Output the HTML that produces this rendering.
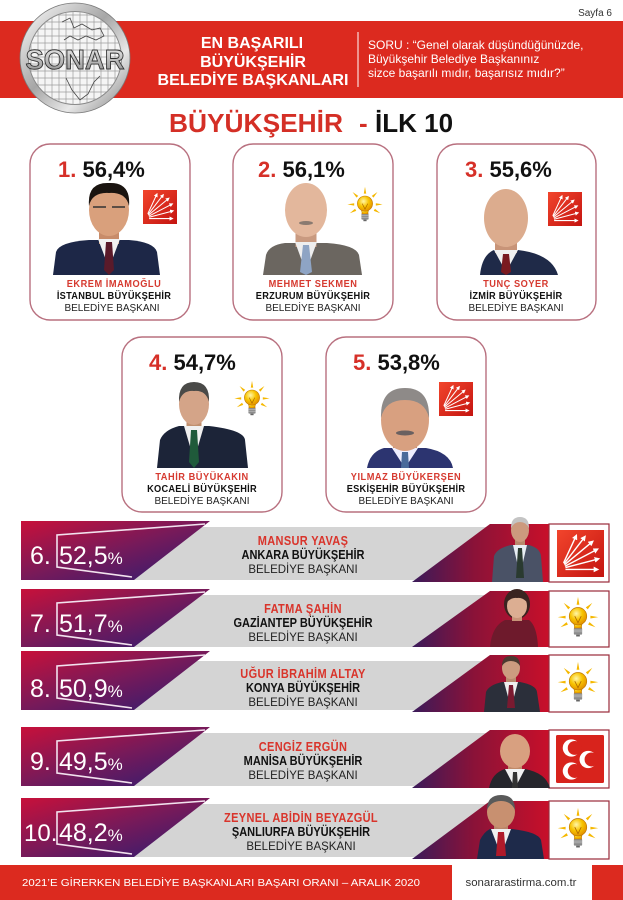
<!DOCTYPE html>
<html>
<head>
<meta charset="utf-8">
<style>
html,body{margin:0;padding:0;background:#fff;}
body{width:623px;height:900px;overflow:hidden;position:relative;}
svg{position:absolute;left:0;top:0;display:block;}
text{font-family:"Liberation Sans","DejaVu Sans",sans-serif;}
</style>
</head>
<body>
<svg width="623" height="900" viewBox="0 0 623 900" xmlns="http://www.w3.org/2000/svg">
<defs>
  <linearGradient id="lg" x1="0" y1="0" x2="1" y2="1">
    <stop offset="0" stop-color="#c8103a"/>
    <stop offset="0.5" stop-color="#761a5a"/>
    <stop offset="1" stop-color="#2a1c72"/>
  </linearGradient>
  <linearGradient id="rg" x1="0" y1="0.5" x2="1" y2="0.5">
    <stop offset="0" stop-color="#3a1a5a"/>
    <stop offset="0.45" stop-color="#8a1238"/>
    <stop offset="1" stop-color="#c8102a"/>
  </linearGradient>
  <linearGradient id="chpg" x1="0" y1="0" x2="1" y2="1">
    <stop offset="0" stop-color="#f2452c"/>
    <stop offset="1" stop-color="#c41410"/>
  </linearGradient>
  <radialGradient id="bulb" cx="0.4" cy="0.35" r="0.7">
    <stop offset="0" stop-color="#fff6a8"/>
    <stop offset="0.5" stop-color="#f8c400"/>
    <stop offset="1" stop-color="#e08a00"/>
  </radialGradient>
  <linearGradient id="ring" x1="0" y1="0" x2="1" y2="1">
    <stop offset="0" stop-color="#ffffff"/>
    <stop offset="0.45" stop-color="#a6a6a6"/>
    <stop offset="0.7" stop-color="#e8e8e8"/>
    <stop offset="1" stop-color="#7c7c7c"/>
  </linearGradient>
  <linearGradient id="txs" x1="0" y1="0" x2="0" y2="1">
    <stop offset="0" stop-color="#f6f6f6"/>
    <stop offset="0.5" stop-color="#bdbdbd"/>
    <stop offset="1" stop-color="#8a8a8a"/>
  </linearGradient>
  <clipPath id="inner"><circle cx="75" cy="58" r="46"/></clipPath>
  <marker id="ah" markerWidth="4" markerHeight="4" refX="2" refY="2" orient="auto">
    <path d="M0,0 L4,2 L0,4 z" fill="#fff"/>
  </marker>
  <symbol id="chp" viewBox="0 0 100 100">
    <rect x="0" y="0" width="100" height="100" fill="url(#chpg)"/>
    <g stroke="#fff" stroke-width="3" fill="none" marker-end="url(#ah)">
      <path d="M14,70 L40,14"/>
      <path d="M15,72 L58,16"/>
      <path d="M16,74 L74,26"/>
      <path d="M17,77 L84,42"/>
      <path d="M18,80 L86,62"/>
      <path d="M18,84 L84,84"/>
    </g>
  </symbol>
  <symbol id="akp" viewBox="0 0 100 100">
    <g fill="#f5b800">
      <polygon points="47,19 53,19 50,2"/>
      <polygon points="71.2,29 67,24.8 81.1,14.9"/>
      <polygon points="28.8,29 33,24.8 18.9,14.9"/>
      <polygon points="77,43 77,49 94,46"/>
      <polygon points="23,43 23,49 6,46"/>
      <polygon points="71.9,62.1 74.9,56.9 88.1,68"/>
      <polygon points="28.1,62.1 25.1,56.9 11.9,68"/>
    </g>
    <path d="M39,56 Q44,66 42,70 L58,70 Q56,66 61,56 Z" fill="url(#bulb)" stroke="#c07a00" stroke-width="1.5"/>
    <circle cx="50" cy="44" r="19" fill="url(#bulb)" stroke="#c07a00" stroke-width="1.5"/>
    <path d="M43,44 L50,58 L57,44" stroke="#b06a00" stroke-width="1.8" fill="none"/>
    <rect x="41" y="70" width="18" height="14" rx="2" fill="#8c8c8c"/>
    <path d="M41,74 L59,74 M41,78 L59,78" stroke="#d0d0d0" stroke-width="1.2"/>
    <rect x="46" y="84" width="8" height="4" fill="#666"/>
  </symbol>
  <symbol id="mhp" viewBox="0 0 100 100">
    <rect x="0" y="0" width="100" height="100" rx="3" fill="#d8231c"/>
    <circle cx="32" cy="27" r="18" fill="#fff"/>
    <circle cx="67" cy="51" r="18" fill="#fff"/>
    <circle cx="32" cy="75" r="18" fill="#fff"/>
    <circle cx="39" cy="27" r="14.5" fill="#d8231c"/>
    <circle cx="74" cy="51" r="14.5" fill="#d8231c"/>
    <circle cx="39" cy="75" r="14.5" fill="#d8231c"/>
  </symbol>
</defs>

<!-- Page label -->
<text x="612" y="16" font-size="10" fill="#333" text-anchor="end">Sayfa 6</text>

<!-- Header band -->
<rect x="0" y="21" width="623" height="77" fill="#dc2a1f"/>

<!-- Logo -->
<circle cx="75" cy="58" r="55" fill="url(#ring)" stroke="#7a7a7a" stroke-width="0.8"/>
<circle cx="75" cy="58" r="46.5" fill="#f5f5f5" stroke="#8a8a8a" stroke-width="1"/>
<g clip-path="url(#inner)">
  <path d="M31,10 L31,106 M38,10 L38,106 M45,10 L45,106 M52,10 L52,106 M59,10 L59,106 M66,10 L66,106 M73,10 L73,106 M80,10 L80,106 M87,10 L87,106 M94,10 L94,106 M101,10 L101,106 M108,10 L108,106 M115,10 L115,106 M25,15 L125,15 M25,22 L125,22 M25,29 L125,29 M25,36 L125,36 M25,43 L125,43 M25,50 L125,50 M25,57 L125,57 M25,64 L125,64 M25,71 L125,71 M25,78 L125,78 M25,85 L125,85 M25,92 L125,92 M25,99 L125,99" stroke="#9c9c9c" stroke-width="0.7" fill="none"/>
  <path d="M62,22 L70,18 L74,28 L82,24 L92,30 L100,28 L104,36 L96,40 L86,36 L78,40 L70,36 L64,40" stroke="#444" stroke-width="0.8" fill="none"/>
  <path d="M66,78 L72,90 L80,100 L88,94 L94,82 L100,76" stroke="#444" stroke-width="0.8" fill="none"/>
</g>
<text x="75" y="69" font-size="28" font-weight="bold" text-anchor="middle" fill="url(#txs)" stroke="#333" stroke-width="0.9" textLength="99" lengthAdjust="spacingAndGlyphs">SONAR</text>

<!-- Header titles -->
<g font-weight="bold" font-size="16" fill="#fff" text-anchor="middle">
  <text x="252" y="48">EN BAŞARILI</text>
  <text x="253" y="67">BÜYÜKŞEHİR</text>
  <text x="253" y="85" textLength="191" lengthAdjust="spacingAndGlyphs">BELEDİYE BAŞKANLARI</text>
</g>
<line x1="358" y1="32" x2="358" y2="87" stroke="#fff" stroke-width="1"/>
<g font-size="12" fill="#fff">
  <text x="368" y="49">SORU : “Genel olarak düşündüğünüzde,</text>
  <text x="368" y="63">Büyükşehir Belediye Başkanınız</text>
  <text x="368" y="77">sizce başarılı mıdır, başarısız mıdır?”</text>
</g>

<!-- Main title -->
<g font-size="26" font-weight="bold">
  <text x="169" y="132" fill="#d42f26" textLength="174" lengthAdjust="spacingAndGlyphs">BÜYÜKŞEHİR</text>
  <text x="359" y="132" fill="#d42f26">-</text>
  <text x="375" y="132" fill="#111">İLK 10</text>
</g>

<!-- Cards -->
<g fill="#fff" stroke="#b8707f" stroke-width="1.4">
  <rect x="30" y="144" width="160" height="176" rx="20"/>
  <rect x="233" y="144" width="160" height="176" rx="20"/>
  <rect x="437" y="144" width="159" height="176" rx="20"/>
  <rect x="122" y="337" width="160" height="175" rx="20"/>
  <rect x="326" y="337" width="160" height="175" rx="20"/>
</g>

<!-- Card ranks -->
<g font-size="22" font-weight="bold">
  <text x="58" y="177"><tspan fill="#d63028">1.</tspan><tspan fill="#111"> 56,4%</tspan></text>
  <text x="258" y="177"><tspan fill="#d63028">2.</tspan><tspan fill="#111"> 56,1%</tspan></text>
  <text x="465" y="177"><tspan fill="#d63028">3.</tspan><tspan fill="#111"> 55,6%</tspan></text>
  <text x="149" y="370"><tspan fill="#d63028">4.</tspan><tspan fill="#111"> 54,7%</tspan></text>
  <text x="353" y="370"><tspan fill="#d63028">5.</tspan><tspan fill="#111"> 53,8%</tspan></text>
</g>

<!-- Card 1 person: Imamoglu -->
<g>
  <path d="M53,275 L56,252 Q59,242 89,240 L129,240 Q154,242 157,252 L160,275 Z" fill="#1d2747"/>
  <rect x="99" y="226" width="20" height="18" fill="#c88c6a"/>
  <polygon points="98,239 120,239 109,268" fill="#f2f2f2"/>
  <polygon points="106,242 112,242 114,270 109,275 104,270" fill="#5a1a2a"/>
  <ellipse cx="109" cy="210" rx="20" ry="26" fill="#d9a07c"/>
  <path d="M89,206 Q87,182 109,183 Q131,182 129,206 Q126,192 109,193 Q92,192 89,206 Z" fill="#1a1410"/>
  <path d="M93,207 L106,207 M112,207 L125,207" stroke="#333" stroke-width="1.5"/>
</g>
<use href="#chp" x="143" y="190" width="34" height="34"/>

<!-- Card 2 person: Sekmen -->
<g>
  <path d="M263,275 L266,255 Q269,245 285,243 L327,243 Q356,245 359,255 L362,275 Z" fill="#6b6660"/>
  <rect x="295.5" y="226" width="21" height="21" fill="#c99a80"/>
  <polygon points="295,242 317,242 306,272" fill="#eeeeee"/>
  <polygon points="303,245 309,245 312,272 306,275 300,272" fill="#8ea4c4"/>
  <ellipse cx="306" cy="210" rx="21" ry="27" fill="#e3b79c"/>
  <ellipse cx="306" cy="223" rx="7" ry="2" fill="#8a7a70"/>
</g>
<use href="#akp" x="345" y="186" width="40" height="40"/>

<!-- Card 3 person: Soyer -->
<g>
  <path d="M480,275 Q482,255 494,250 L518,250 Q552,254 558,275 Z" fill="#1f2a48"/>
  <rect x="495" y="235" width="22" height="18" fill="#c89478"/>
  <polygon points="494,250 518,250 506,272" fill="#f0f0f0"/>
  <polygon points="503,254 509,254 511,272 506,275 501,272" fill="#7a1a20"/>
  <ellipse cx="506" cy="218" rx="22" ry="29" fill="#dcac8e"/>
</g>
<use href="#chp" x="548" y="192" width="34" height="34"/>

<!-- Card 4 person: Buyukakin -->
<g>
  <path d="M157,468 L160,440 Q164,430 179,426 L209,426 Q244,430 245,440 L248,468 Z" fill="#1c2438"/>
  <rect x="186.5" y="417" width="15" height="12" fill="#c0906f"/>
  <polygon points="184,426 204,426 194,460" fill="#f0f0f0"/>
  <polygon points="191,430 197,430 199,462 194,468 189,462" fill="#1f5a3a"/>
  <ellipse cx="194" cy="404" rx="15" ry="21" fill="#d4a488"/>
  <path d="M179,402 Q178,382 194,382 Q210,382 209,402 Q206,390 194,391 Q182,390 179,402 Z" fill="#4a4a48"/>
</g>
<use href="#akp" x="232" y="380" width="40" height="40"/>

<!-- Card 5 person: Buyukersen -->
<g>
  <path d="M367,468 Q370,452 384,448 L426,448 Q450,452 453,468 Z" fill="#2c3470"/>
  <rect x="393" y="440" width="24" height="10" fill="#c89070"/>
  <polygon points="392,448 418,448 405,468" fill="#eeeeff"/>
  <polygon points="402,452 408,452 409,468 401,468" fill="#4a6a9a"/>
  <ellipse cx="405" cy="420" rx="24" ry="31" fill="#d8a080"/>
  <path d="M381,418 Q380,388 405,388 Q430,388 429,418 Q425,400 405,400 Q385,400 381,418 Z" fill="#8e8a88"/>
  <ellipse cx="405" cy="433" rx="9" ry="2.5" fill="#6a6060"/>
</g>
<use href="#chp" x="439" y="382" width="34" height="34"/>

<!-- Card texts -->
<g text-anchor="middle">
  <g font-size="10.5" font-weight="bold" fill="#d63a30" letter-spacing="0.6">
    <text transform="translate(114,287) scale(0.88,1)">EKREM  İMAMOĞLU</text>
    <text transform="translate(313,287) scale(0.88,1)">MEHMET SEKMEN</text>
    <text transform="translate(516,287) scale(0.88,1)">TUNÇ SOYER</text>
    <text transform="translate(202,480) scale(0.88,1)">TAHİR BÜYÜKAKIN</text>
    <text transform="translate(406,480) scale(0.88,1)">YILMAZ BÜYÜKERŞEN</text>
  </g>
  <g font-size="10.5" font-weight="bold" fill="#111" letter-spacing="0.3">
    <text transform="translate(114,299) scale(0.88,1)">İSTANBUL BÜYÜKŞEHİR</text>
    <text transform="translate(313,299) scale(0.88,1)">ERZURUM BÜYÜKŞEHİR</text>
    <text transform="translate(516,299) scale(0.88,1)">İZMİR BÜYÜKŞEHİR</text>
    <text transform="translate(202,492) scale(0.88,1)">KOCAELİ BÜYÜKŞEHİR</text>
    <text transform="translate(406,492) scale(0.88,1)">ESKİŞEHİR BÜYÜKŞEHİR</text>
  </g>
  <g font-size="10" fill="#222">
    <text x="112" y="311">BELEDİYE BAŞKANI</text>
    <text x="313" y="311">BELEDİYE BAŞKANI</text>
    <text x="516" y="311">BELEDİYE BAŞKANI</text>
    <text x="202" y="504">BELEDİYE BAŞKANI</text>
    <text x="406" y="504">BELEDİYE BAŞKANI</text>
  </g>
</g>

<!-- ===== Bars ===== -->
<!-- Row 6 -->
<rect x="125" y="527" width="400" height="53" fill="#d4d4d4"/>
<polygon points="21,521 210,521 134,580 21,580" fill="url(#lg)"/>
<polyline points="205,524 57,535 57,567 132,577" fill="none" stroke="#f2e2ee" stroke-width="1.6"/>
<polygon points="412,582 490,524 549,524 549,582" fill="url(#rg)"/>
<rect x="549" y="524" width="60" height="58" fill="#fff" stroke="#9a2a3a" stroke-width="1.2"/>
<!-- Row 7 -->
<rect x="125" y="595" width="400" height="52" fill="#d4d4d4"/>
<polygon points="21,589 210,589 134,647 21,647" fill="url(#lg)"/>
<polyline points="205,592 57,603 57,635 132,645" fill="none" stroke="#f2e2ee" stroke-width="1.6"/>
<polygon points="412,647 490,591 549,591 549,647" fill="url(#rg)"/>
<rect x="549" y="591" width="60" height="56" fill="#fff" stroke="#9a2a3a" stroke-width="1.2"/>
<!-- Row 8 -->
<rect x="125" y="661" width="400" height="49" fill="#d4d4d4"/>
<polygon points="21,651 210,651 134,710 21,710" fill="url(#lg)"/>
<polyline points="205,655 57,666 57,698 132,708" fill="none" stroke="#f2e2ee" stroke-width="1.6"/>
<polygon points="412,712 490,655 549,655 549,712" fill="url(#rg)"/>
<rect x="549" y="655" width="60" height="57" fill="#fff" stroke="#9a2a3a" stroke-width="1.2"/>
<!-- Row 9 -->
<rect x="125" y="733" width="400" height="53" fill="#d4d4d4"/>
<polygon points="21,727 210,727 134,786 21,786" fill="url(#lg)"/>
<polyline points="205,730 57,741 57,773 132,783" fill="none" stroke="#f2e2ee" stroke-width="1.6"/>
<polygon points="412,788 490,730 549,730 549,788" fill="url(#rg)"/>
<rect x="549" y="730" width="60" height="58" fill="#fff" stroke="#9a2a3a" stroke-width="1.2"/>
<!-- Row 10 -->
<rect x="125" y="804" width="400" height="53" fill="#d4d4d4"/>
<polygon points="21,798 210,798 134,857 21,857" fill="url(#lg)"/>
<polyline points="205,801 57,812 57,844 132,854" fill="none" stroke="#f2e2ee" stroke-width="1.6"/>
<polygon points="412,859 490,801 549,801 549,859" fill="url(#rg)"/>
<rect x="549" y="801" width="60" height="58" fill="#fff" stroke="#9a2a3a" stroke-width="1.2"/>

<!-- Bar people -->
<!-- Yavas -->
<g>
  <path d="M492,582 L494,556 Q497,548 511,545 L529,545 Q540,548 541,556 L543,582 Z" fill="#4a5266"/>
  <rect x="515" y="538" width="10" height="9" fill="#b8886c"/>
  <polygon points="513,545 527,545 520,575" fill="#e8eef4"/>
  <polygon points="518,548 522,548 524,578 516,578" fill="#2a3a30"/>
  <ellipse cx="520" cy="530" rx="9" ry="12" fill="#cc9a7e"/>
  <path d="M511,528 Q511,517 520,517 Q529,517 529,528 Q526,522 520,522 Q514,522 511,528 Z" fill="#c4c4c4"/>
</g>
<!-- Sahin -->
<g>
  <ellipse cx="517" cy="604" rx="13" ry="15" fill="#3a2420"/>
  <path d="M490,647 Q492,626 505,620 L529,620 Q537,626 538,647 Z" fill="#6e1a2c"/>
  <rect x="512" y="612" width="10" height="9" fill="#c89478"/>
  <ellipse cx="517" cy="606" rx="10" ry="12" fill="#dcae92"/>
  <path d="M507,602 Q507,592 517,592 Q527,592 527,602 Q522,597 517,598 Q512,597 507,602 Z" fill="#3a2420"/>
</g>
<!-- Altay -->
<g>
  <path d="M484,712 L486,692 Q489,685 502,682 L520,682 Q536,685 537,692 L540,712 Z" fill="#2b2f3a"/>
  <rect x="506" y="676" width="10" height="8" fill="#b88a6e"/>
  <polygon points="504,682 518,682 511,708" fill="#eeeeee"/>
  <polygon points="509,685 513,685 515,708 507,708" fill="#7a1a30"/>
  <ellipse cx="511" cy="668" rx="9" ry="11" fill="#cc9c80"/>
  <path d="M502,666 Q502,656 511,656 Q520,656 520,666 Q517,661 511,661 Q505,661 502,666 Z" fill="#4a3a30"/>
</g>
<!-- Ergun -->
<g>
  <path d="M489,788 Q492,773 505,769 L525,769 Q546,773 550,788 Z" fill="#26262c"/>
  <rect x="508" y="763" width="14" height="8" fill="#c08a6a"/>
  <polygon points="505,769 525,769 515,788" fill="#f2f2f2"/>
  <polygon points="513,772 517,772 518,788 512,788" fill="#333"/>
  <ellipse cx="515" cy="751" rx="15" ry="17" fill="#d8a080"/>
</g>
<!-- Beyazgul -->
<g>
  <path d="M477,859 L480,840 Q484,832 490,829 L512,829 Q538,832 541,840 L544,859 Z" fill="#1e2a4a"/>
  <rect x="494" y="823" width="14" height="8" fill="#b8866a"/>
  <polygon points="491,829 511,829 501,855" fill="#f0f0f0"/>
  <polygon points="498,832 504,832 506,856 496,856" fill="#b01a2a"/>
  <ellipse cx="501" cy="812" rx="14" ry="16" fill="#c89070"/>
  <path d="M487,810 Q487,795 501,795 Q515,795 515,810 Q511,801 501,801 Q491,801 487,810 Z" fill="#5a5a5a"/>
</g>

<!-- Bar party logos -->
<use href="#chp" x="557" y="530" width="47" height="47"/>
<use href="#akp" x="555" y="596" width="46" height="46"/>
<use href="#akp" x="555" y="661" width="46" height="46"/>
<use href="#mhp" x="555" y="735" width="50" height="48"/>
<use href="#akp" x="555" y="807" width="46" height="46"/>

<!-- Bar ranks -->
<g fill="#fff" font-size="25">
  <text x="30" y="564">6.</text>
  <text x="59" y="564">52,5<tspan font-size="17">%</tspan></text>
  <text x="30" y="632">7.</text>
  <text x="59" y="632">51,7<tspan font-size="17">%</tspan></text>
  <text x="30" y="697">8.</text>
  <text x="59" y="697">50,9<tspan font-size="17">%</tspan></text>
  <text x="30" y="770">9.</text>
  <text x="59" y="770">49,5<tspan font-size="17">%</tspan></text>
  <text x="24" y="841" font-size="24">10.</text>
  <text x="59" y="841">48,2<tspan font-size="17">%</tspan></text>
</g>

<!-- Bar center texts -->
<g text-anchor="middle">
  <g font-size="12.5" font-weight="bold" fill="#d9342b" letter-spacing="0.4">
    <text transform="translate(303,545) scale(0.88,1)">MANSUR YAVAŞ</text>
    <text transform="translate(303,613) scale(0.88,1)">FATMA ŞAHİN</text>
    <text transform="translate(303,678) scale(0.88,1)">UĞUR İBRAHİM ALTAY</text>
    <text transform="translate(303,751) scale(0.88,1)">CENGİZ ERGÜN</text>
    <text transform="translate(301,822) scale(0.88,1)">ZEYNEL ABİDİN BEYAZGÜL</text>
  </g>
  <g font-size="12.5" font-weight="bold" fill="#111">
    <text transform="translate(303,559) scale(0.88,1)">ANKARA  BÜYÜKŞEHİR</text>
    <text transform="translate(303,627) scale(0.88,1)">GAZİANTEP  BÜYÜKŞEHİR</text>
    <text transform="translate(303,692) scale(0.88,1)">KONYA  BÜYÜKŞEHİR</text>
    <text transform="translate(303,765) scale(0.88,1)">MANİSA BÜYÜKŞEHİR</text>
    <text transform="translate(301,836) scale(0.88,1)">ŞANLIURFA  BÜYÜKŞEHİR</text>
  </g>
  <g font-size="11.5" fill="#222">
    <text x="303" y="573">BELEDİYE BAŞKANI</text>
    <text x="303" y="641">BELEDİYE BAŞKANI</text>
    <text x="303" y="706">BELEDİYE BAŞKANI</text>
    <text x="303" y="779">BELEDİYE BAŞKANI</text>
    <text x="301" y="850">BELEDİYE BAŞKANI</text>
  </g>
</g>

<!-- Footer -->
<rect x="0" y="865" width="452" height="35" fill="#dc2a1f"/>
<rect x="592" y="865" width="31" height="35" fill="#dc2a1f"/>
<text x="22" y="886" font-size="10.5" fill="#fff" textLength="398" lengthAdjust="spacingAndGlyphs">2021’E GİRERKEN BELEDİYE BAŞKANLARI BAŞARI ORANI – ARALIK 2020</text>
<text x="521" y="886" font-size="11" fill="#333" text-anchor="middle" textLength="111" lengthAdjust="spacingAndGlyphs">sonararastirma.com.tr</text>
</svg>
</body>
</html>
